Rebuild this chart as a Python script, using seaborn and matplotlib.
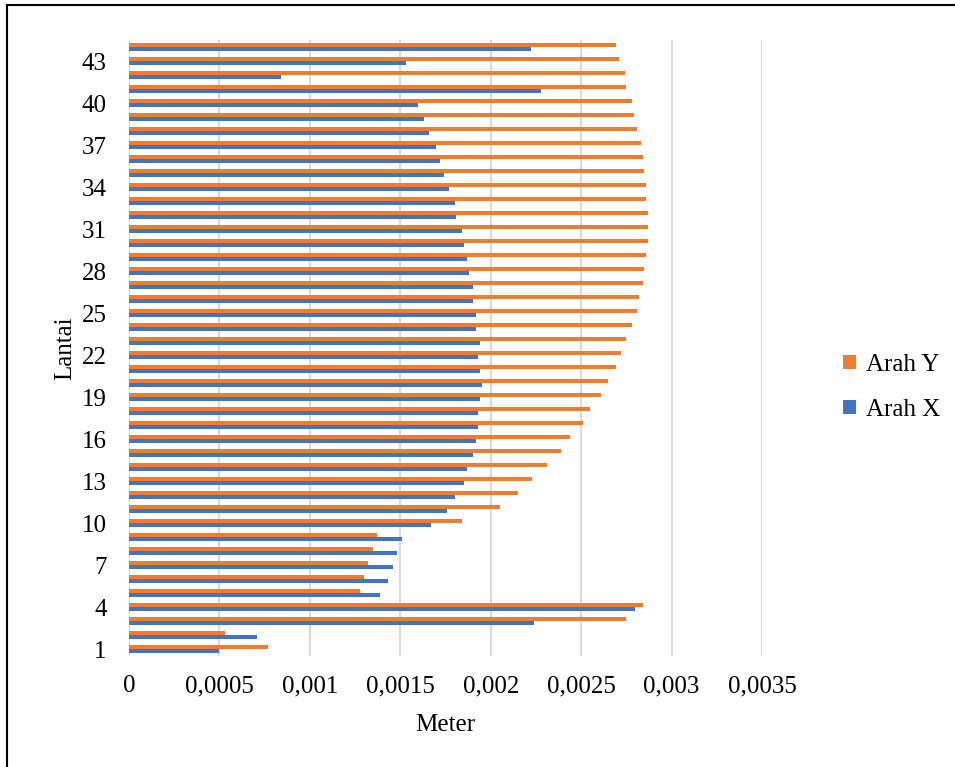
import matplotlib
matplotlib.use('Agg')
import matplotlib.pyplot as plt
import pandas as pd
import seaborn as sns
from matplotlib.lines import Line2D

# Simpangan per lantai (m), lantai 1 s/d 44
lantai = list(range(1, 45))
arah_x = [0.00050, 0.00071, 0.00224, 0.00280, 0.00139, 0.00143, 0.00146, 0.00148, 0.00151, 0.00167,
          0.00176, 0.00180, 0.00185, 0.00187, 0.00190, 0.00192, 0.00193, 0.00193, 0.00194, 0.00195,
          0.00194, 0.00193, 0.00194, 0.00192, 0.00192, 0.00190, 0.00190, 0.00188, 0.00187, 0.00185,
          0.00184, 0.00181, 0.00180, 0.00177, 0.00174, 0.00172, 0.00170, 0.00166, 0.00163, 0.00160,
          0.00228, 0.00084, 0.00153, 0.00222]
arah_y = [0.00077, 0.00053, 0.00275, 0.00284, 0.00128, 0.00130, 0.00132, 0.00135, 0.00137, 0.00184,
          0.00205, 0.00215, 0.00223, 0.00231, 0.00239, 0.00244, 0.00251, 0.00255, 0.00261, 0.00265,
          0.00269, 0.00272, 0.00275, 0.00278, 0.00281, 0.00282, 0.00284, 0.00285, 0.00286, 0.00287,
          0.00287, 0.00287, 0.00286, 0.00286, 0.00285, 0.00284, 0.00283, 0.00281, 0.00279, 0.00278,
          0.00275, 0.00274, 0.00271, 0.00269]

x_ticks = [0, 0.0005, 0.001, 0.0015, 0.002, 0.0025, 0.003, 0.0035]
x_tick_labels = ['0', '0,0005', '0,001', '0,0015', '0,002', '0,0025', '0,003', '0,0035']
y_tick_floors = list(range(1, 44, 3))

df = pd.DataFrame({
    'Lantai': lantai + lantai,
    'Meter': arah_x + arah_y,
    'Arah': ['Arah X'] * len(lantai) + ['Arah Y'] * len(lantai),
})

plt.rcParams['font.family'] = ['Liberation Serif', 'DejaVu Serif']

fig = plt.figure(figsize=(9.55, 7.67), dpi=100)
ax = fig.add_axes([129 / 955, 1 - 656 / 767, 633 / 955, 616 / 767])

order = sorted(lantai, reverse=True)
sns.barplot(data=df, y='Lantai', x='Meter', hue='Arah', orient='h', order=order,
            hue_order=['Arah Y', 'Arah X'],
            palette={'Arah Y': '#ED7D31', 'Arah X': '#4472C4'},
            width=0.6, saturation=1, errorbar=None, linewidth=0, ax=ax)

ax.set_xlim(0, 0.0035)
ax.set_xticks(x_ticks)
ax.set_xticklabels(x_tick_labels)
ax.set_yticks([order.index(f) for f in y_tick_floors])
ax.set_yticklabels([str(f) for f in y_tick_floors])
ax.tick_params(axis='x', length=0, pad=14, labelsize=18)
ax.tick_params(axis='y', length=0, pad=16, labelsize=18)
ax.grid(axis='x', color='#D9D9D9', linewidth=1.5)
ax.set_axisbelow(True)
for s in ax.spines.values():
    s.set_visible(False)

ax.set_xlabel('Meter', fontsize=18, labelpad=12)
ax.set_ylabel('Lantai', fontsize=18, labelpad=4)

sns.move_legend(ax, 'center left', bbox_to_anchor=(0.870, 0.495), bbox_transform=fig.transFigure,
                frameon=False, title=None, fontsize=18, handlelength=0.5, handleheight=0.5,
                handletextpad=0.4, labelspacing=0.9, borderpad=0)

# frame of the pasted chart (only left and top visible)
fig.add_artist(Line2D([7 / 955, 7 / 955], [0, 1 - 5 / 767], transform=fig.transFigure, color='black', lw=1.5))
fig.add_artist(Line2D([7 / 955, 1], [1 - 5 / 767, 1 - 5 / 767], transform=fig.transFigure, color='black', lw=1.5))

fig.savefig('out.png', dpi=100)
